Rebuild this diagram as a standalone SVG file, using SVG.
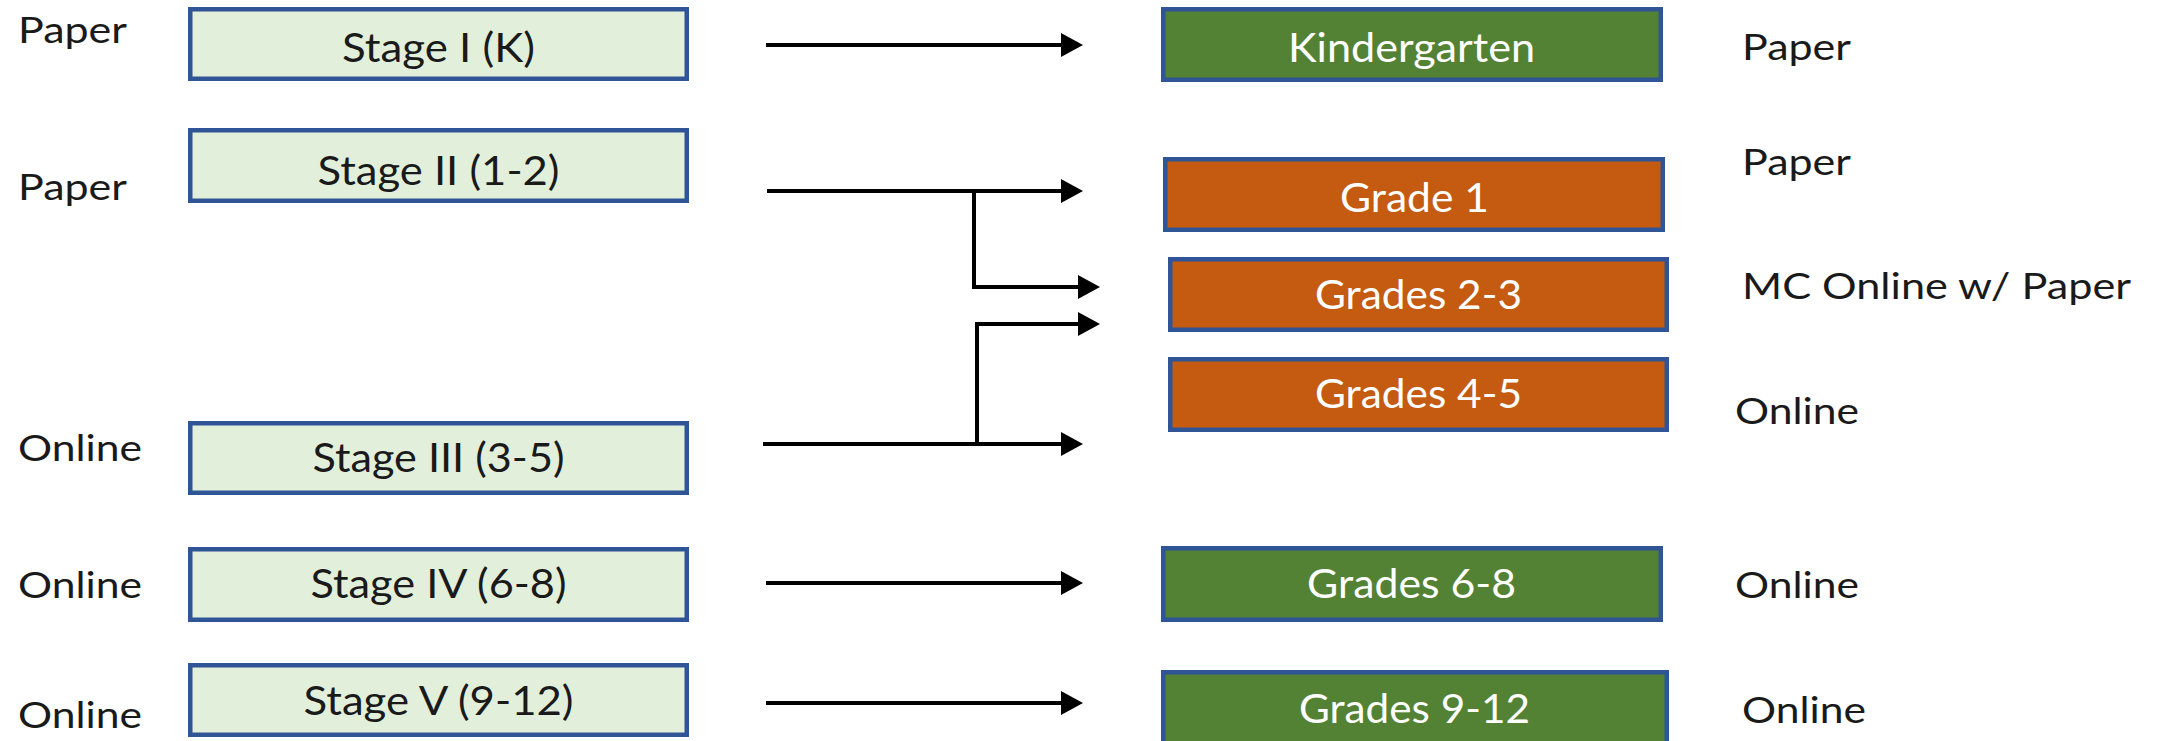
<svg xmlns="http://www.w3.org/2000/svg" width="2159" height="741" viewBox="0 0 2159 741">
<defs>
<style>
.stage{fill:#E2EFDA;stroke:#2F5597;stroke-width:4.5}
.green{fill:#548235;stroke:#2F5597;stroke-width:4.5}
.orange{fill:#C55A11;stroke:#2F5597;stroke-width:4.5}
.bt{font-family:Lato,"Liberation Sans",sans-serif;font-size:40px;text-anchor:middle}
.dark{fill:#1a1a1a}
.light{fill:#ffffff}
.lbl{font-family:Lato,"Liberation Sans",sans-serif;font-size:36px;fill:#1a1a1a}
.conn{fill:none;stroke:#000;stroke-width:4;marker-end:url(#arr)}
</style>
<marker id="arr" markerUnits="userSpaceOnUse" markerWidth="24" markerHeight="26" refX="0" refY="12" orient="auto" overflow="visible">
<path d="M0,0 L22,12 L0,24 z" fill="#000"/>
</marker>
</defs>
<rect width="2159" height="741" fill="#ffffff"/>

<g id="labels-left">
<text class="lbl" x="18" y="43" textLength="109" lengthAdjust="spacingAndGlyphs">Paper</text>
<text class="lbl" x="18" y="200" textLength="109" lengthAdjust="spacingAndGlyphs">Paper</text>
<text class="lbl" x="18" y="461" textLength="124" lengthAdjust="spacingAndGlyphs">Online</text>
<text class="lbl" x="18" y="598" textLength="124" lengthAdjust="spacingAndGlyphs">Online</text>
<text class="lbl" x="18" y="728" textLength="124" lengthAdjust="spacingAndGlyphs">Online</text>
</g>

<g id="stage1"><rect class="stage" x="190.25" y="9.25" width="496.5" height="69.5"/><text class="bt dark" x="438.5" y="62" textLength="193" lengthAdjust="spacingAndGlyphs">Stage I (K)</text></g>
<g id="stage2"><rect class="stage" x="190.25" y="130.25" width="496.5" height="70.5"/><text class="bt dark" x="438.5" y="185" textLength="242" lengthAdjust="spacingAndGlyphs">Stage II (1-2)</text></g>
<g id="stage3"><rect class="stage" x="190.25" y="423.25" width="496.5" height="69.5"/><text class="bt dark" x="438.5" y="472" textLength="252" lengthAdjust="spacingAndGlyphs">Stage III (3-5)</text></g>
<g id="stage4"><rect class="stage" x="190.25" y="549.25" width="496.5" height="70.5"/><text class="bt dark" x="438.5" y="598" textLength="256" lengthAdjust="spacingAndGlyphs">Stage IV (6-8)</text></g>
<g id="stage5"><rect class="stage" x="190.25" y="665.25" width="496.5" height="69.5"/><text class="bt dark" x="438.5" y="715" textLength="270" lengthAdjust="spacingAndGlyphs">Stage V (9-12)</text></g>

<g id="kindergarten"><rect class="green" x="1163.25" y="9.25" width="497.5" height="70.5"/><text class="bt light" x="1411.5" y="62" textLength="247" lengthAdjust="spacingAndGlyphs">Kindergarten</text></g>
<g id="grade1"><rect class="orange" x="1165.25" y="159.25" width="497.5" height="70.5"/><text class="bt light" x="1414.5" y="212" textLength="149" lengthAdjust="spacingAndGlyphs">Grade 1</text></g>
<g id="grades2-3"><rect class="orange" x="1170.25" y="259.25" width="496.5" height="70.5"/><text class="bt light" x="1418.5" y="309" textLength="207" lengthAdjust="spacingAndGlyphs">Grades 2-3</text></g>
<g id="grades4-5"><rect class="orange" x="1170.25" y="359.25" width="496.5" height="70.5"/><text class="bt light" x="1418.5" y="408" textLength="207" lengthAdjust="spacingAndGlyphs">Grades 4-5</text></g>
<g id="grades6-8"><rect class="green" x="1163.25" y="548.25" width="497.5" height="71.5"/><text class="bt light" x="1411.5" y="598" textLength="209" lengthAdjust="spacingAndGlyphs">Grades 6-8</text></g>
<g id="grades9-12"><rect class="green" x="1163.25" y="672.25" width="503.5" height="80"/><text class="bt light" x="1414.5" y="723" textLength="231" lengthAdjust="spacingAndGlyphs">Grades 9-12</text></g>

<g id="labels-right">
<text class="lbl" x="1742" y="60" textLength="109" lengthAdjust="spacingAndGlyphs">Paper</text>
<text class="lbl" x="1742" y="175" textLength="109" lengthAdjust="spacingAndGlyphs">Paper</text>
<text class="lbl" x="1742" y="299" textLength="389" lengthAdjust="spacingAndGlyphs">MC Online w/ Paper</text>
<text class="lbl" x="1735" y="424" textLength="124" lengthAdjust="spacingAndGlyphs">Online</text>
<text class="lbl" x="1735" y="598" textLength="124" lengthAdjust="spacingAndGlyphs">Online</text>
<text class="lbl" x="1742" y="723" textLength="124" lengthAdjust="spacingAndGlyphs">Online</text>
</g>

<g id="connectors">
<path class="conn" d="M766,45 H1061"/>
<path class="conn" d="M767,191 H1061"/>
<path class="conn" d="M974,191 V287 H1078"/>
<path class="conn" d="M763,444 H1061"/>
<path class="conn" d="M977,444 V324 H1078"/>
<path class="conn" d="M766,583 H1061"/>
<path class="conn" d="M766,703 H1061"/>
</g>
</svg>
